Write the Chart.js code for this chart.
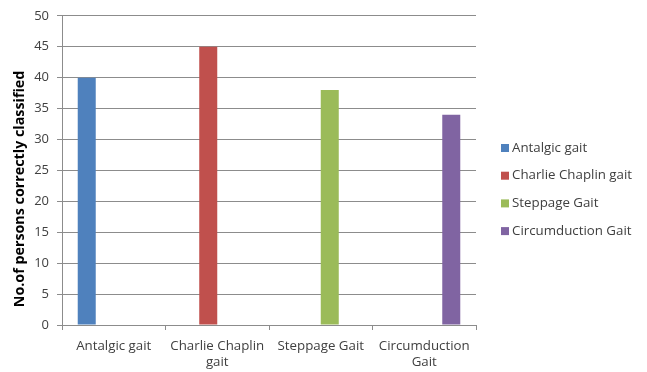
<!DOCTYPE html>
<html>
<head>
<meta charset="utf-8">
<script src="https://cdn.jsdelivr.net/npm/chart.js@4/dist/chart.umd.min.js"></script>
<style>
  html, body { margin: 0; padding: 0; background: #fff; }
  #wrap { width: 647px; height: 372px; position: relative; }
</style>
</head>
<body>
<div id="wrap"><canvas id="c" width="647" height="372"></canvas></div>
<script>
// Gait types (categories) and number of persons correctly classified
const categories = [['Antalgic gait'], ['Charlie Chaplin', 'gait'], ['Steppage Gait'], ['Circumduction', 'Gait']];
const seriesNames = ['Antalgic gait', 'Charlie Chaplin gait', 'Steppage Gait', 'Circumduction Gait'];
const antalgic = [40, null, null, null];
const charlieChaplin = [null, 45, null, null];
const steppage = [null, null, 38, null];
const circumduction = [null, null, null, 34];
const yTicks = [0, 5, 10, 15, 20, 25, 30, 35, 40, 45, 50];

const colors = ['#4F81BD', '#C0504D', '#9BBB59', '#8064A2'];
const seriesValues = [antalgic, charlieChaplin, steppage, circumduction];
const FONT = 'Open Sans';

// Legend drawn on the right, one row per series
const sideLegend = {
  id: 'sideLegend',
  afterDraw(chart) {
    const ctx = chart.ctx;
    ctx.save();
    ctx.font = '13.3px "' + FONT + '"';
    ctx.textBaseline = 'middle';
    chart.data.datasets.forEach((ds, i) => {
      const y = 148 + i * 27.7;
      ctx.fillStyle = ds.backgroundColor;
      ctx.fillRect(501, y - 4, 8, 8);
      ctx.fillStyle = '#404040';
      ctx.fillText(ds.label, 512, y);
    });
    ctx.restore();
  }
};

new Chart(document.getElementById('c'), {
  type: 'bar',
  data: {
    labels: categories,
    datasets: seriesNames.map((name, i) => ({
      label: name,
      data: seriesValues[i],
      backgroundColor: colors[i],
      borderWidth: 0
    }))
  },
  options: {
    responsive: false,
    animation: false,
    devicePixelRatio: 1,
    layout: { padding: { left: 0, right: 171, top: 14, bottom: 0 } },
    datasets: { bar: { categoryPercentage: 0.696, barPercentage: 1 } },
    plugins: { legend: { display: false }, tooltip: { enabled: false } },
    scales: {
      x: {
        grid: { offset: true, drawOnChartArea: false, drawTicks: true, tickLength: 5, color: '#8c8c8c' },
        border: { display: true, color: '#8c8c8c' },
        ticks: { color: '#404040', font: { family: FONT, size: 13.3, lineHeight: 1.22 }, padding: 8, maxRotation: 0, autoSkip: false },
        afterFit(scale) { scale.height = 47; }
      },
      y: {
        min: 0, max: 50,
        afterBuildTicks(scale) { scale.ticks = yTicks.map(v => ({ value: v })); },
        grid: { color: '#8c8c8c', tickLength: 5 },
        border: { display: true, color: '#8c8c8c' },
        ticks: { color: '#404040', font: { family: FONT, size: 13 }, padding: 8 },
        title: {
          display: true,
          text: 'No.of persons correctly classified' + '\u00a0'.repeat(10),
          color: '#000',
          font: { family: FONT, size: 14.3, weight: 'bold' },
          padding: { top: 11, bottom: 0 }
        },
        afterFit(scale) { scale.width = 62; }
      }
    }
  },
  plugins: [sideLegend]
});
</script>
</body>
</html>
